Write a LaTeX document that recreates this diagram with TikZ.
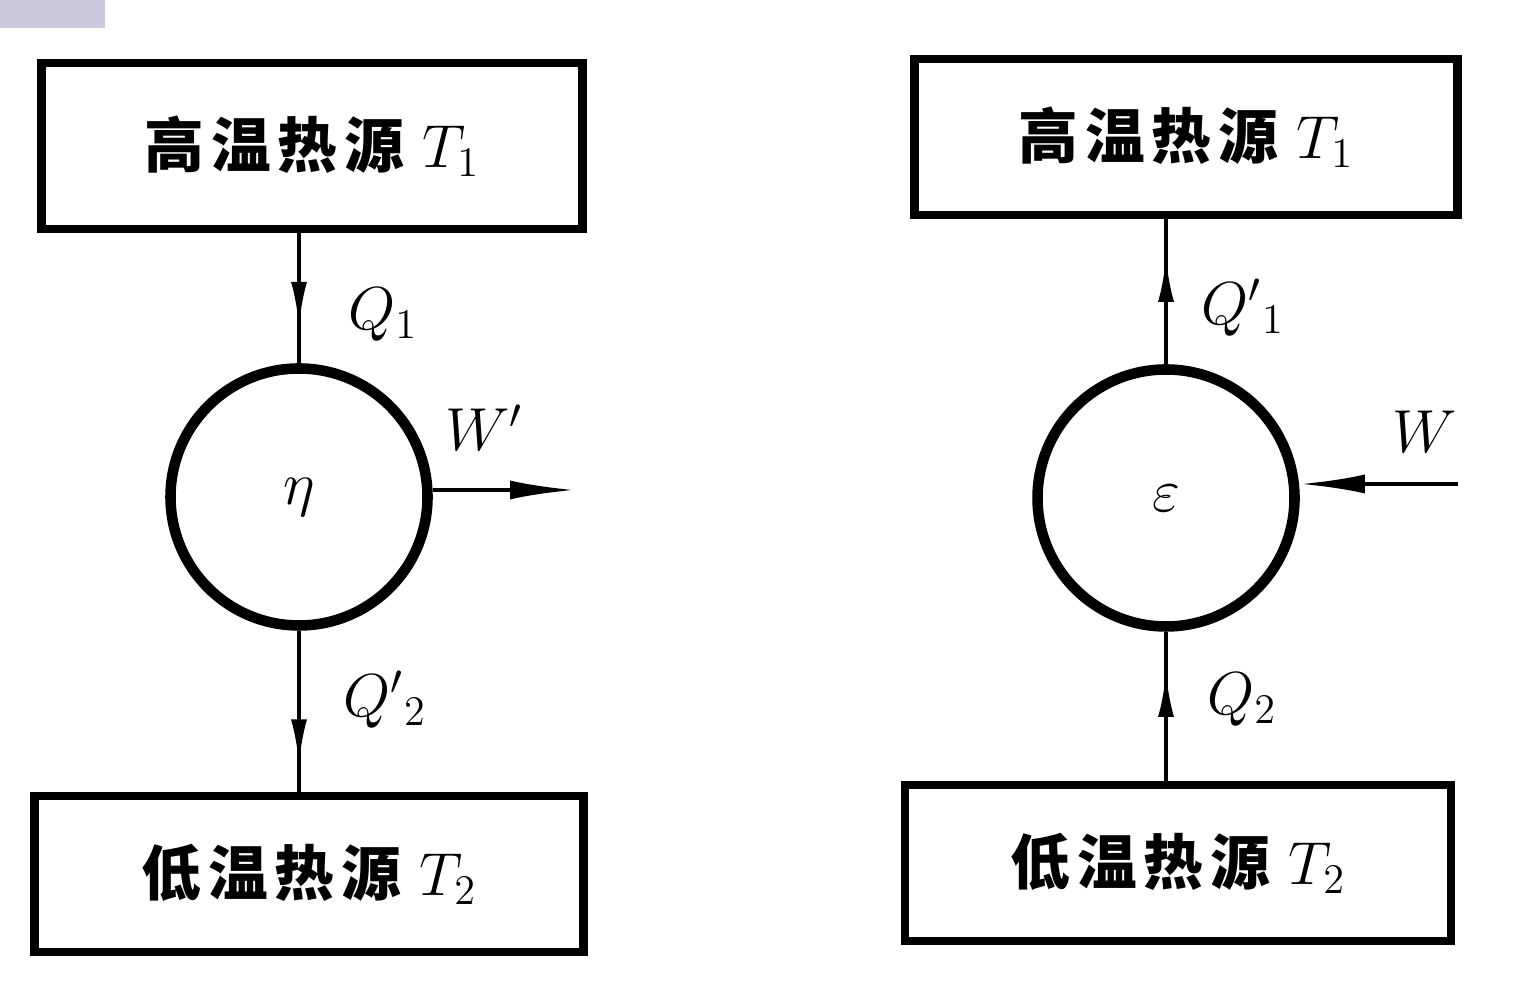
\documentclass[tikz,border=0pt]{standalone}
\usepackage{fontspec}
\newfontfamily\cjk{Noto Sans CJK SC}[LetterSpace=12]
\usetikzlibrary{positioning,arrows.meta,decorations.markings}

\definecolor{tabgray}{RGB}{202,202,220}

\tikzset{
  source/.style={draw, line width=2.4pt, minimum width=5.43cm, minimum height=1.56cm,
    inner sep=0pt, font=\fontsize{17}{20}\selectfont},
  engine/.style={circle, draw, line width=3pt, minimum size=2.57cm, inner sep=0pt,
    font=\fontsize{17}{20}\selectfont},
  flowline/.style={line width=1.2pt},
  midarrow/.style={postaction={decorate}, decoration={markings,
    mark=at position #1 with {\arrow{Latex[length=4.5mm,width=1.6mm]}}}},
  workarrow/.style={-{Latex[length=6.5mm,width=1.9mm]}},
  lbl/.style={inner sep=0pt, font=\fontsize{17}{20}\selectfont}
}
\newcommand{\srctext}[2]{{\cjk\bfseries #1}\hspace{0.3em}$T_{#2}$}

\begin{document}
\begin{tikzpicture}
  \useasboundingbox (0,0) rectangle (15.25,10);
  \fill[tabgray] (0,9.72) rectangle (1.05,10);

  %Define nodes
  \node[engine] (eta) at (2.99,5.03) {$\eta$};
  \node[source, above=1.30cm of eta, xshift=1.3mm, minimum width=5.41cm, minimum height=1.66cm] (hotL) {\srctext{高温热源}{1}};
  \node[source, below=1.61cm of eta, xshift=1mm, minimum width=5.49cm] (coldL) {\srctext{低温热源}{2}};

  \node[engine] (eps) at (11.66,5.02) {$\varepsilon$};
  \node[source, above=1.45cm of eps, xshift=2mm] (hotR) {\srctext{高温热源}{1}};
  \node[source, below=1.49cm of eps, xshift=1.2mm, minimum width=5.46cm] (coldR) {\srctext{低温热源}{2}};

  % Labels
  \node[lbl] (q1) at (3.83,6.85) {$Q_1$};
  \node[lbl] (q2p) at (3.85,3.00) {$Q'{}_2$};
  \node[lbl] (wp) at (4.84,5.72) {$W'$};
  \node[lbl] (q1p) at (12.43,6.92) {$Q'{}_1$};
  \node[lbl] (w) at (14.25,5.68) {$W$};
  \node[lbl] (q2) at (12.42,3.00) {$Q_2$};

  \coordinate (wout) at (5.75,5.10);
  \coordinate (win) at (14.58,5.16);

  % Connect the nodes
  \draw[flowline, midarrow=0.72] (hotL.south -| eta.north) -- (eta.north);
  \draw[flowline, midarrow=0.83] (eta.south) -- (eta.south |- coldL.north);
  \draw[flowline, workarrow] (wout -| eta.east) -- (wout);

  \draw[flowline, midarrow=0.74] (eps.north) -- (eps.north |- hotR.south);
  \draw[flowline, midarrow=0.73] (eps.south |- coldR.north) -- (eps.south);
  \draw[flowline, workarrow] (win) -- (win -| eps.east);
\end{tikzpicture}
\end{document}
